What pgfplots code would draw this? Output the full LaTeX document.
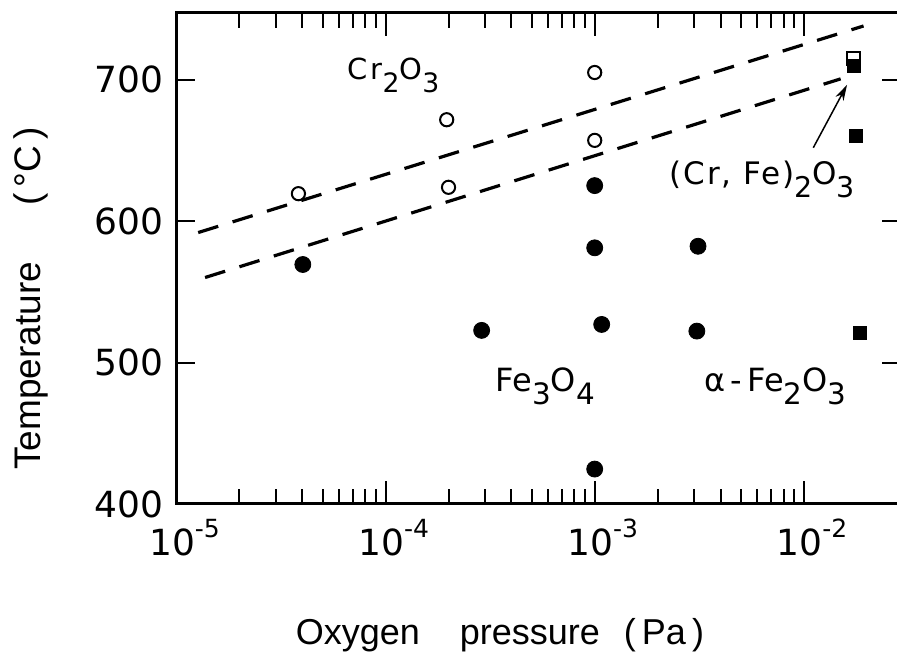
\documentclass[border=0pt]{standalone}
\usepackage{fontspec}
\setmainfont{DejaVu Sans}
\newfontfamily\labfont{Liberation Sans}
\usepackage{graphicx}
\usepackage{pgfplots}
\pgfplotsset{compat=1.18}
\usetikzlibrary{arrows.meta}
\newcommand\sub[1]{\raisebox{-0.42em}{\scalebox{0.92}{#1}}}
\newcommand\ex[1]{\raisebox{0.5em}{\fontsize{12.5}{12.5}\selectfont #1}}

\begin{document}
\begin{tikzpicture}
\useasboundingbox (-88.25pt,-76pt) rectangle (360.25pt,252pt);
\begin{axis}[
  at={(0,0)}, anchor=south west,
  scale only axis, width=362pt, height=245.5pt,
  xmode=log, xmin=1e-5, xmax=0.029, ymin=400, ymax=747.3,
  axis line style={line width=1.5pt},
  xtick={1e-5,1e-4,1e-3,1e-2},
  xticklabels={10\ex{-5},10\ex{-4},10\ex{-3},10\ex{-2}},
  ytick={400,500,600,700},
  yticklabels={400,500,600,700},
  tick align=inside,
  major tick length=11.5pt, minor tick length=7.5pt,
  ytick style={/pgfplots/major tick length=9.5pt},
  every tick/.style={black, line width=1pt},
  ticklabel style={font=\fontsize{18}{20}\selectfont},
  yticklabel style={xshift=-3pt},
  xticklabel style={xshift=4pt, yshift=-4pt},
  xlabel={\labfont Oxygen\hspace{20pt}pressure\hspace{12pt}(\,Pa\,)},
  xlabel style={font=\fontsize{18}{20}\selectfont, at={(axis description cs:0.4468,-0.287)}, anchor=base},
  ylabel={\labfont Temperature\hspace{28pt}(\,°C\,)},
  ylabel style={font=\fontsize{18.5}{20}\selectfont, at={(axis description cs:-0.201,0.4185)}, anchor=center},
]
% dashed boundaries
\addplot[line width=1.6pt, dash pattern=on 10.5pt off 7.5pt] coordinates {(1.27e-5,592) (1.93e-2,738.1)};
\addplot[line width=1.6pt, dash pattern=on 10.5pt off 7.5pt] coordinates {(1.37e-5,560.2) (1.50e-2,700.7)};
% open circles (Cr2O3)
\addplot[only marks, mark=o, mark size=3.3pt, mark options={line width=1pt, fill=white}] coordinates {
(3.83e-5,619.5) (1.96e-4,671.8) (2.0e-4,624) (1.0e-3,705.2) (1.0e-3,657.2)};
% filled circles (Fe3O4)
\addplot[only marks, mark=*, mark size=4pt, mark options={fill=black}] coordinates {
(4.02e-5,569.4) (2.88e-4,522.8) (1.0e-3,625.2) (1.0e-3,581.2) (1.08e-3,527) (3.12e-3,582.3) (3.08e-3,522.3) (1.0e-3,424.7)};
% open square
\addplot[only marks, mark=square, mark size=3.25pt, mark options={line width=1pt, fill=white}] coordinates {(1.73e-2,715.2)};
% filled squares
\addplot[only marks, mark=square*, mark size=3.25pt, mark options={fill=black}] coordinates {
(1.73e-2,709.9) (1.78e-2,660.5) (1.85e-2,520.7)};
% arrow
\draw[line width=0.75pt, -{Stealth[length=8pt,width=4.5pt]}] (axis cs:1.11e-2,652) -- (axis cs:1.61e-2,696.5);
% labels
\node[anchor=base, font=\fontsize{14.5}{16}\selectfont] at (axis cs:1.09e-4,700) {\addfontfeature{LetterSpace=10}Cr\sub{2}O\sub{3}};
\node[anchor=base, font=\fontsize{15.5}{17}\selectfont] at (axis cs:6.33e-3,625.9) {\addfontfeature{LetterSpace=6}(Cr, Fe)\sub{2}O\sub{3}};
\node[anchor=base, font=\fontsize{16}{18}\selectfont] at (axis cs:5.8e-4,479.8) {Fe\sub{3}O\sub{4}};
\node[anchor=base, font=\fontsize{16}{18}\selectfont] at (axis cs:7.31e-3,479.8) {α\,-\,Fe\sub{2}O\sub{3}};
\end{axis}
\end{tikzpicture}
\end{document}
